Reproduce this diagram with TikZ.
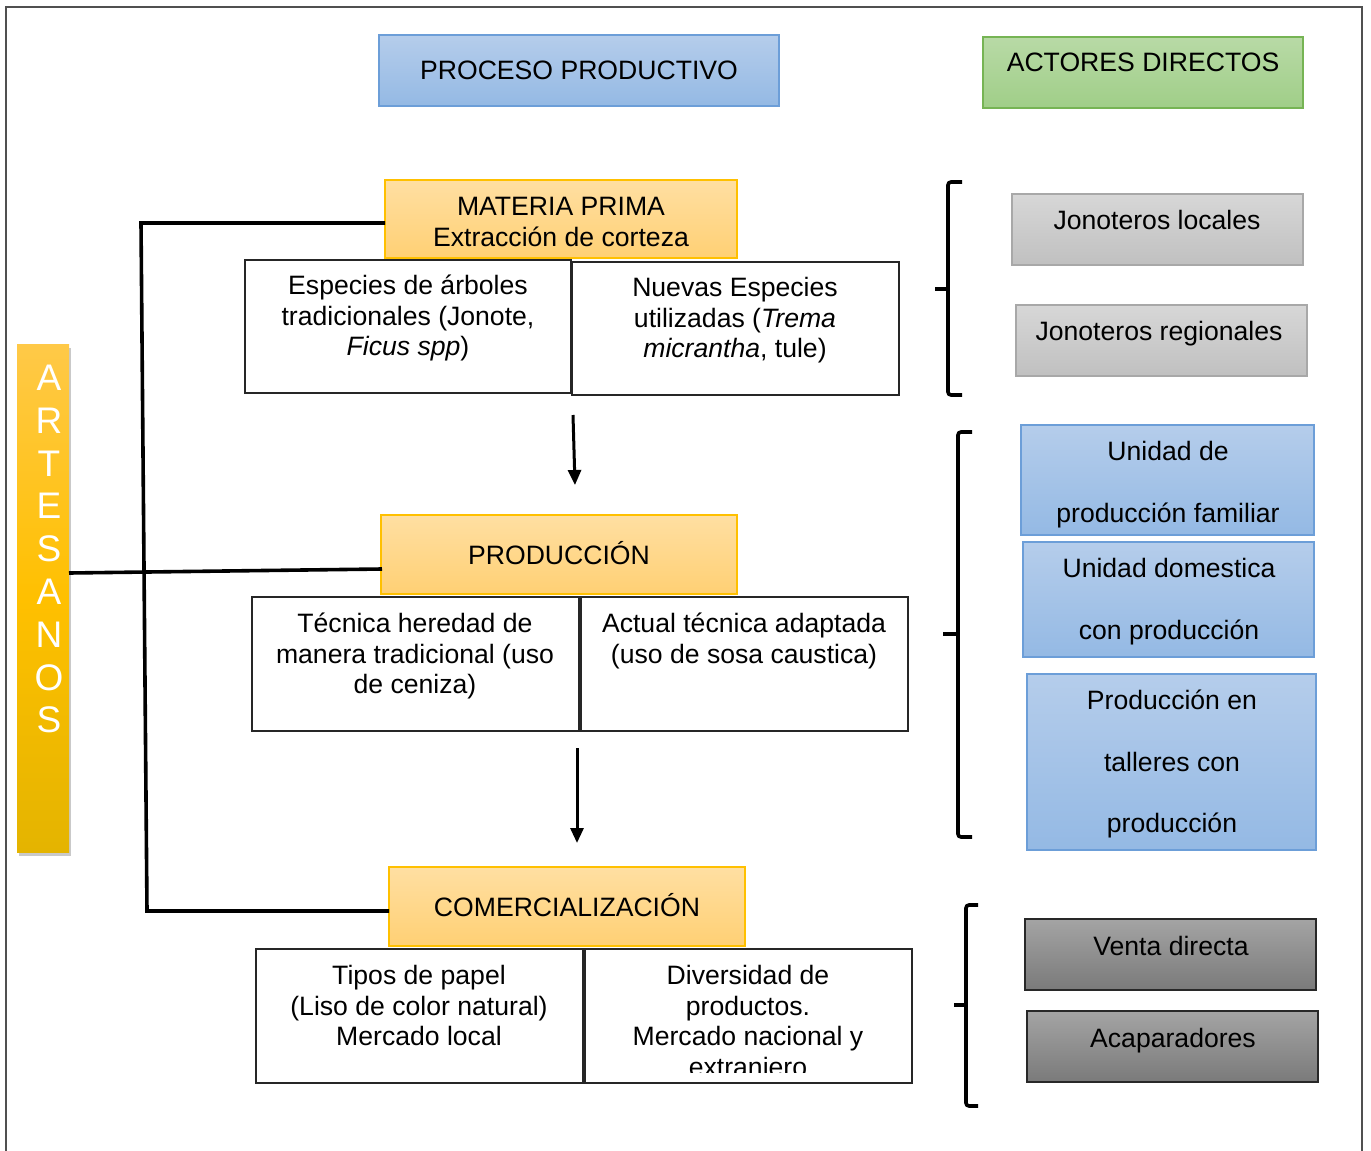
\documentclass[tikz,border=0pt]{standalone}
\usepackage{fontspec}
\setmainfont{Liberation Sans}
\usetikzlibrary{arrows.meta,shadows}

\definecolor{bluetop}{RGB}{181,205,235}
\definecolor{bluebot}{RGB}{148,185,228}
\definecolor{bluebd}{RGB}{108,158,216}
\definecolor{greentop}{RGB}{184,218,166}
\definecolor{greenbot}{RGB}{160,206,136}
\definecolor{greenbd}{RGB}{118,180,84}
\definecolor{orangetop}{RGB}{255,223,162}
\definecolor{orangebot}{RGB}{255,208,116}
\definecolor{orangebd}{RGB}{255,192,0}
\definecolor{greytop}{RGB}{215,215,215}
\definecolor{greybot}{RGB}{192,192,192}
\definecolor{greybd}{RGB}{168,168,168}
\definecolor{dgreytop}{RGB}{164,164,164}
\definecolor{dgreybot}{RGB}{122,122,122}
\definecolor{dgreybd}{RGB}{40,40,40}
\definecolor{arttop}{RGB}{255,201,72}
\definecolor{artmid}{RGB}{255,192,0}
\definecolor{artbot}{RGB}{228,180,0}
\definecolor{framec}{RGB}{80,80,80}

\newcommand\fs{\fontsize{13.3}{15.25}\selectfont}
\newcommand\fsd{\fontsize{13.3}{30.75}\selectfont}
\newcommand\fsa{\fontsize{18.5}{21.4}\selectfont}
\newcommand\fl{\rule{0pt}{13pt}}

\begin{document}
\begin{tikzpicture}[x=0.5pt,y=-0.5pt,
  box/.style={draw, inner sep=0pt, outer sep=0pt, line width=0.75pt},
  bluebox/.style={box, draw=bluebd, top color=bluetop, bottom color=bluebot},
  greenbox/.style={box, draw=greenbd, top color=greentop, bottom color=greenbot},
  orangebox/.style={box, draw=orangebd, top color=orangetop, bottom color=orangebot},
  greybox/.style={box, draw=greybd, top color=greytop, bottom color=greybot},
  dgreybox/.style={box, draw=dgreybd, top color=dgreytop, bottom color=dgreybot},
  whitebox/.style={box, draw=black!85, fill=white},
  txt/.style={anchor=north, align=center, inner sep=0pt, font=\fs},
  txtd/.style={anchor=north, align=center, inner sep=0pt, font=\fsd},
  conn/.style={line width=1.8pt, black},
  arr/.style={line width=1.5pt, black, -{Triangle[length=7.5pt,width=6.5pt]}},
  brk/.style={line width=1.8pt, black, rounded corners=1.5pt}
]
\useasboundingbox (0,0) rectangle (1371,1151);

% outer frame (open at the bottom)
\draw[line width=1pt, draw=framec] (6,1151) -- (6,7) -- (1362,7) -- (1362,1151);

% headers
\node[bluebox, minimum width=200pt, minimum height=35.5pt] (proc) at (579,70.5) {};
\node[txt] at (579,53.5) {\fl PROCESO PRODUCTIVO};
\node[greenbox, minimum width=160pt, minimum height=35.5pt] (act) at (1143,72.5) {};
\node[txt] at (1143,45.5) {\fl ACTORES DIRECTOS};

% MATERIA PRIMA
\node[orangebox, minimum width=176pt, minimum height=39pt] (mp) at (561,219) {};
\node[txt] at (561,189.5) {\fl MATERIA PRIMA\\Extracción de corteza};
\node[whitebox, minimum width=163pt, minimum height=66.5pt] (w1) at (408,326.5) {};
\node[txt] at (408,268.5) {\fl Especies de árboles\\tradicionales (Jonote,\\\textit{Ficus spp})};
\node[whitebox, minimum width=163.5pt, minimum height=66.5pt] (w2) at (735.5,328.5) {};
\node[txt] at (735,270.5) {\fl Nuevas Especies\\utilizadas (\textit{Trema}\\\textit{micrantha}, tule)};

% PRODUCCION
\node[orangebox, minimum width=178pt, minimum height=39.5pt] (prod) at (559,554.5) {};
\node[txt] at (559,538.5) {\fl PRODUCCIÓN};
\node[whitebox, minimum width=163.5pt, minimum height=67pt] (w3) at (415.5,664) {};
\node[txt] at (415,606.5) {\fl Técnica heredad de\\manera tradicional (uso\\de ceniza)};
\node[whitebox, minimum width=163.5pt, minimum height=67pt] (w4) at (744.5,664) {};
\node[txt] at (744,606.5) {\fl Actual técnica adaptada\\(uso de sosa caustica)};

% COMERCIALIZACION
\node[orangebox, minimum width=178pt, minimum height=39.5pt] (com) at (567,906.5) {};
\node[txt] at (567,890.5) {\fl COMERCIALIZACIÓN};
\node[whitebox, minimum width=163.5pt, minimum height=67pt] (w5) at (419.5,1016) {};
\node[txt] at (419,958.5) {\fl Tipos de papel\\(Liso de color natural)\\Mercado local};
\node[whitebox, minimum width=163.5pt, minimum height=67pt] (w6) at (748.5,1016) {};
\begin{scope}
  \clip (586,950) rectangle (911,1072);
  \node[txt] at (748,958.5) {\fl Diversidad de\\productos.\\Mercado nacional y\\extranjero};
\end{scope}

% arrows
\coordinate (ar1a) at (573,415);
\coordinate (ar1b) at (575,485);
\draw[arr] (ar1a) -- (ar1b);
\coordinate (ar2a) at (577,748);
\coordinate (ar2b) at (577,843);
\draw[arr] (ar2a) -- (ar2b);

% actors
\node[greybox, minimum width=145.5pt, minimum height=35.5pt] (jl) at (1157.5,229.5) {};
\node[txt] at (1157,203.5) {\fl Jonoteros locales};
\node[greybox, minimum width=145.5pt, minimum height=35.5pt] (jr) at (1161.5,340.5) {};
\node[txt] at (1159,314.5) {\fl Jonoteros regionales};

\node[bluebox, minimum width=146.5pt, minimum height=55pt] (u1) at (1167.5,480) {};
\node[txtd] at (1168,434.5) {\fl Unidad de\\producción familiar};
\node[bluebox, minimum width=145.5pt, minimum height=57.5pt] (u2) at (1168.5,599.5) {};
\node[txtd] at (1169,551.5) {\fl Unidad domestica\\con producción};
\node[bluebox, minimum width=144.5pt, minimum height=88pt] (u3) at (1171.5,762) {};
\node[txtd] at (1172,683.5) {\fl Producción en\\talleres con\\producción};

\node[dgreybox, minimum width=145.5pt, minimum height=35.5pt] (vd) at (1170.5,954.5) {};
\node[txt] at (1171,929.5) {\fl Venta directa};
\node[dgreybox, minimum width=145.5pt, minimum height=35.5pt] (ac) at (1172.5,1046.5) {};
\node[txt] at (1173,1021.5) {\fl Acaparadores};

% brackets
\draw[brk] (962,182) -- (948,182) -- (948,395) -- (962,395);
\draw[brk] (948,289) -- (935,289);
\draw[brk] (972,432) -- (958,432) -- (958,837) -- (972,837);
\draw[brk] (958,634) -- (943,634);
\draw[brk] (978,905) -- (966,905) -- (966,1106) -- (978,1106);
\draw[brk] (966,1005) -- (954,1005);

% ARTESANOS
\node[box, draw=none, top color=arttop, bottom color=artbot, middle color=artmid,
      minimum width=26pt, minimum height=254pt,
      drop shadow={shadow xshift=1.2pt, shadow yshift=-2pt, opacity=0.3, fill=black!70}] (art) at (43,598) {};
\node[anchor=north, align=center, inner sep=0pt, font=\fsa, text=white] at (49,362)
  {\rule{0pt}{14pt}A\\R\\T\\E\\S\\A\\N\\O\\S};

% connectors
\coordinate (t1) at (141,223);
\coordinate (t3) at (147,911);
\draw[conn] (mp.west |- t1) -- (t1) -- (t3) -- (com.west |- t3);
\coordinate (a1) at (69,573);
\coordinate (p1) at (382,569);
\draw[conn] (a1) -- (p1);
\end{tikzpicture}
\end{document}
